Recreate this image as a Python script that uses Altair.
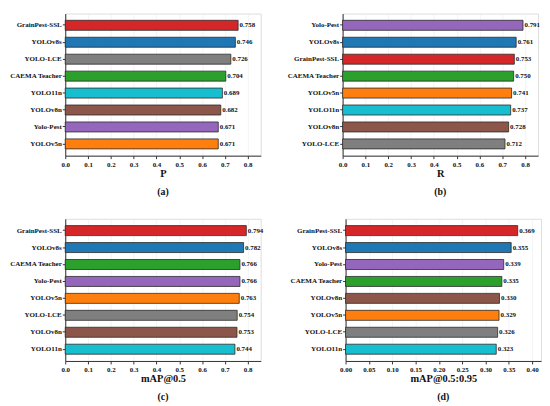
import altair as alt
import pandas as pd

models = ["GrainPest-SSL", "YOLOv8s", "YOLO-LCE", "CAEMA Teacher", "YOLO11n", "YOLOv8n", "Yolo-Pest", "YOLOv5n"]
colors = ["#d62728", "#1f77b4", "#7f7f7f", "#2ca02c", "#17becf", "#8c564b", "#9467bd", "#ff7f0e"]

p_models = ["GrainPest-SSL", "YOLOv8s", "YOLO-LCE", "CAEMA Teacher", "YOLO11n", "YOLOv8n", "Yolo-Pest", "YOLOv5n"]
p_values = [0.758, 0.746, 0.726, 0.704, 0.689, 0.682, 0.671, 0.671]

r_models = ["Yolo-Pest", "YOLOv8s", "GrainPest-SSL", "CAEMA Teacher", "YOLOv5n", "YOLO11n", "YOLOv8n", "YOLO-LCE"]
r_values = [0.791, 0.761, 0.753, 0.750, 0.741, 0.737, 0.728, 0.712]

m50_models = ["GrainPest-SSL", "YOLOv8s", "CAEMA Teacher", "Yolo-Pest", "YOLOv5n", "YOLO-LCE", "YOLOv8n", "YOLO11n"]
m50_values = [0.794, 0.782, 0.766, 0.766, 0.763, 0.754, 0.753, 0.744]

m95_models = ["GrainPest-SSL", "YOLOv8s", "Yolo-Pest", "CAEMA Teacher", "YOLOv8n", "YOLOv5n", "YOLO-LCE", "YOLO11n"]
m95_values = [0.369, 0.355, 0.339, 0.335, 0.330, 0.329, 0.326, 0.323]

ticks_a = [0.0, 0.1, 0.2, 0.3, 0.4, 0.5, 0.6, 0.7, 0.8]
ticks_d = [0.0, 0.05, 0.10, 0.15, 0.20, 0.25, 0.30, 0.35, 0.40]

FONT = "Liberation Serif"
W, H = 198, 144


def panel(mods, vals, title, label, xmax, ticks, fmt):
    df = pd.DataFrame({"model": mods, "value": vals})
    y = alt.Y("model:N", sort=mods,
              scale=alt.Scale(paddingInner=0.41, paddingOuter=0.40),
              axis=alt.Axis(title=None, labelFont=FONT, labelFontWeight="bold",
                            labelFontSize=7.1, labelColor="#111", tickSize=3,
                            tickColor="#333", domainColor="#333", labelPadding=1,
                            labelLimit=200, labelOverlap=False))
    x = alt.X("value:Q", scale=alt.Scale(domain=[0, xmax], nice=False, zero=True),
              axis=alt.Axis(title=title, values=ticks, format=fmt, labelFont=FONT,
                            labelFontWeight="bold", labelFontSize=7, labelColor="#111",
                            tickSize=3, tickColor="#333", domainColor="#333",
                            titleFont=FONT, titleFontWeight="bold", titleFontSize=10.5,
                            titleColor="#111", titlePadding=1.5, labelPadding=1.5,
                            grid=True, gridColor="#ececec", gridWidth=0.6,
                            labelFlush=False, labelOverlap=False))
    base = alt.Chart(df).encode(x=x, y=y)
    bars = base.mark_bar(stroke="#2a2a2a", strokeWidth=0.8).encode(
        color=alt.Color("model:N", scale=alt.Scale(domain=models, range=colors), legend=None),
    )
    texts = base.mark_text(align="left", baseline="middle", dx=1.5, font=FONT,
                           fontWeight="bold", fontSize=7, color="#111").encode(
        text=alt.Text("value:Q", format=".3f"),
    )
    return alt.layer(bars, texts).properties(
        width=W, height=H,
        title=alt.TitleParams(text=label, orient="bottom", anchor="middle", frame="group",
                              font=FONT, fontWeight="bold", fontSize=10, color="#111",
                              offset=8),
    )


a = panel(p_models, p_values, "P", "(a)", 0.857, ticks_a, ".1f")
b = panel(r_models, r_values, "R", "(b)", 0.857, ticks_a, ".1f")
c = panel(m50_models, m50_values, "mAP@0.5", "(c)", 0.857, ticks_a, ".1f")
d = panel(m95_models, m95_values, "mAP@0.5:0.95", "(d)", 0.419, ticks_d, ".2f")

chart = alt.vconcat(
    alt.hconcat(a, b, spacing=24),
    alt.hconcat(c, d, spacing=24),
    spacing=21,
).properties(padding={"left": 0, "top": 2, "right": 0, "bottom": 0}).configure_view(
    stroke="#dddddd", strokeWidth=0.6
).configure(background="white")

chart.save("out.html", embed_options={"renderer": "svg", "actions": False})
